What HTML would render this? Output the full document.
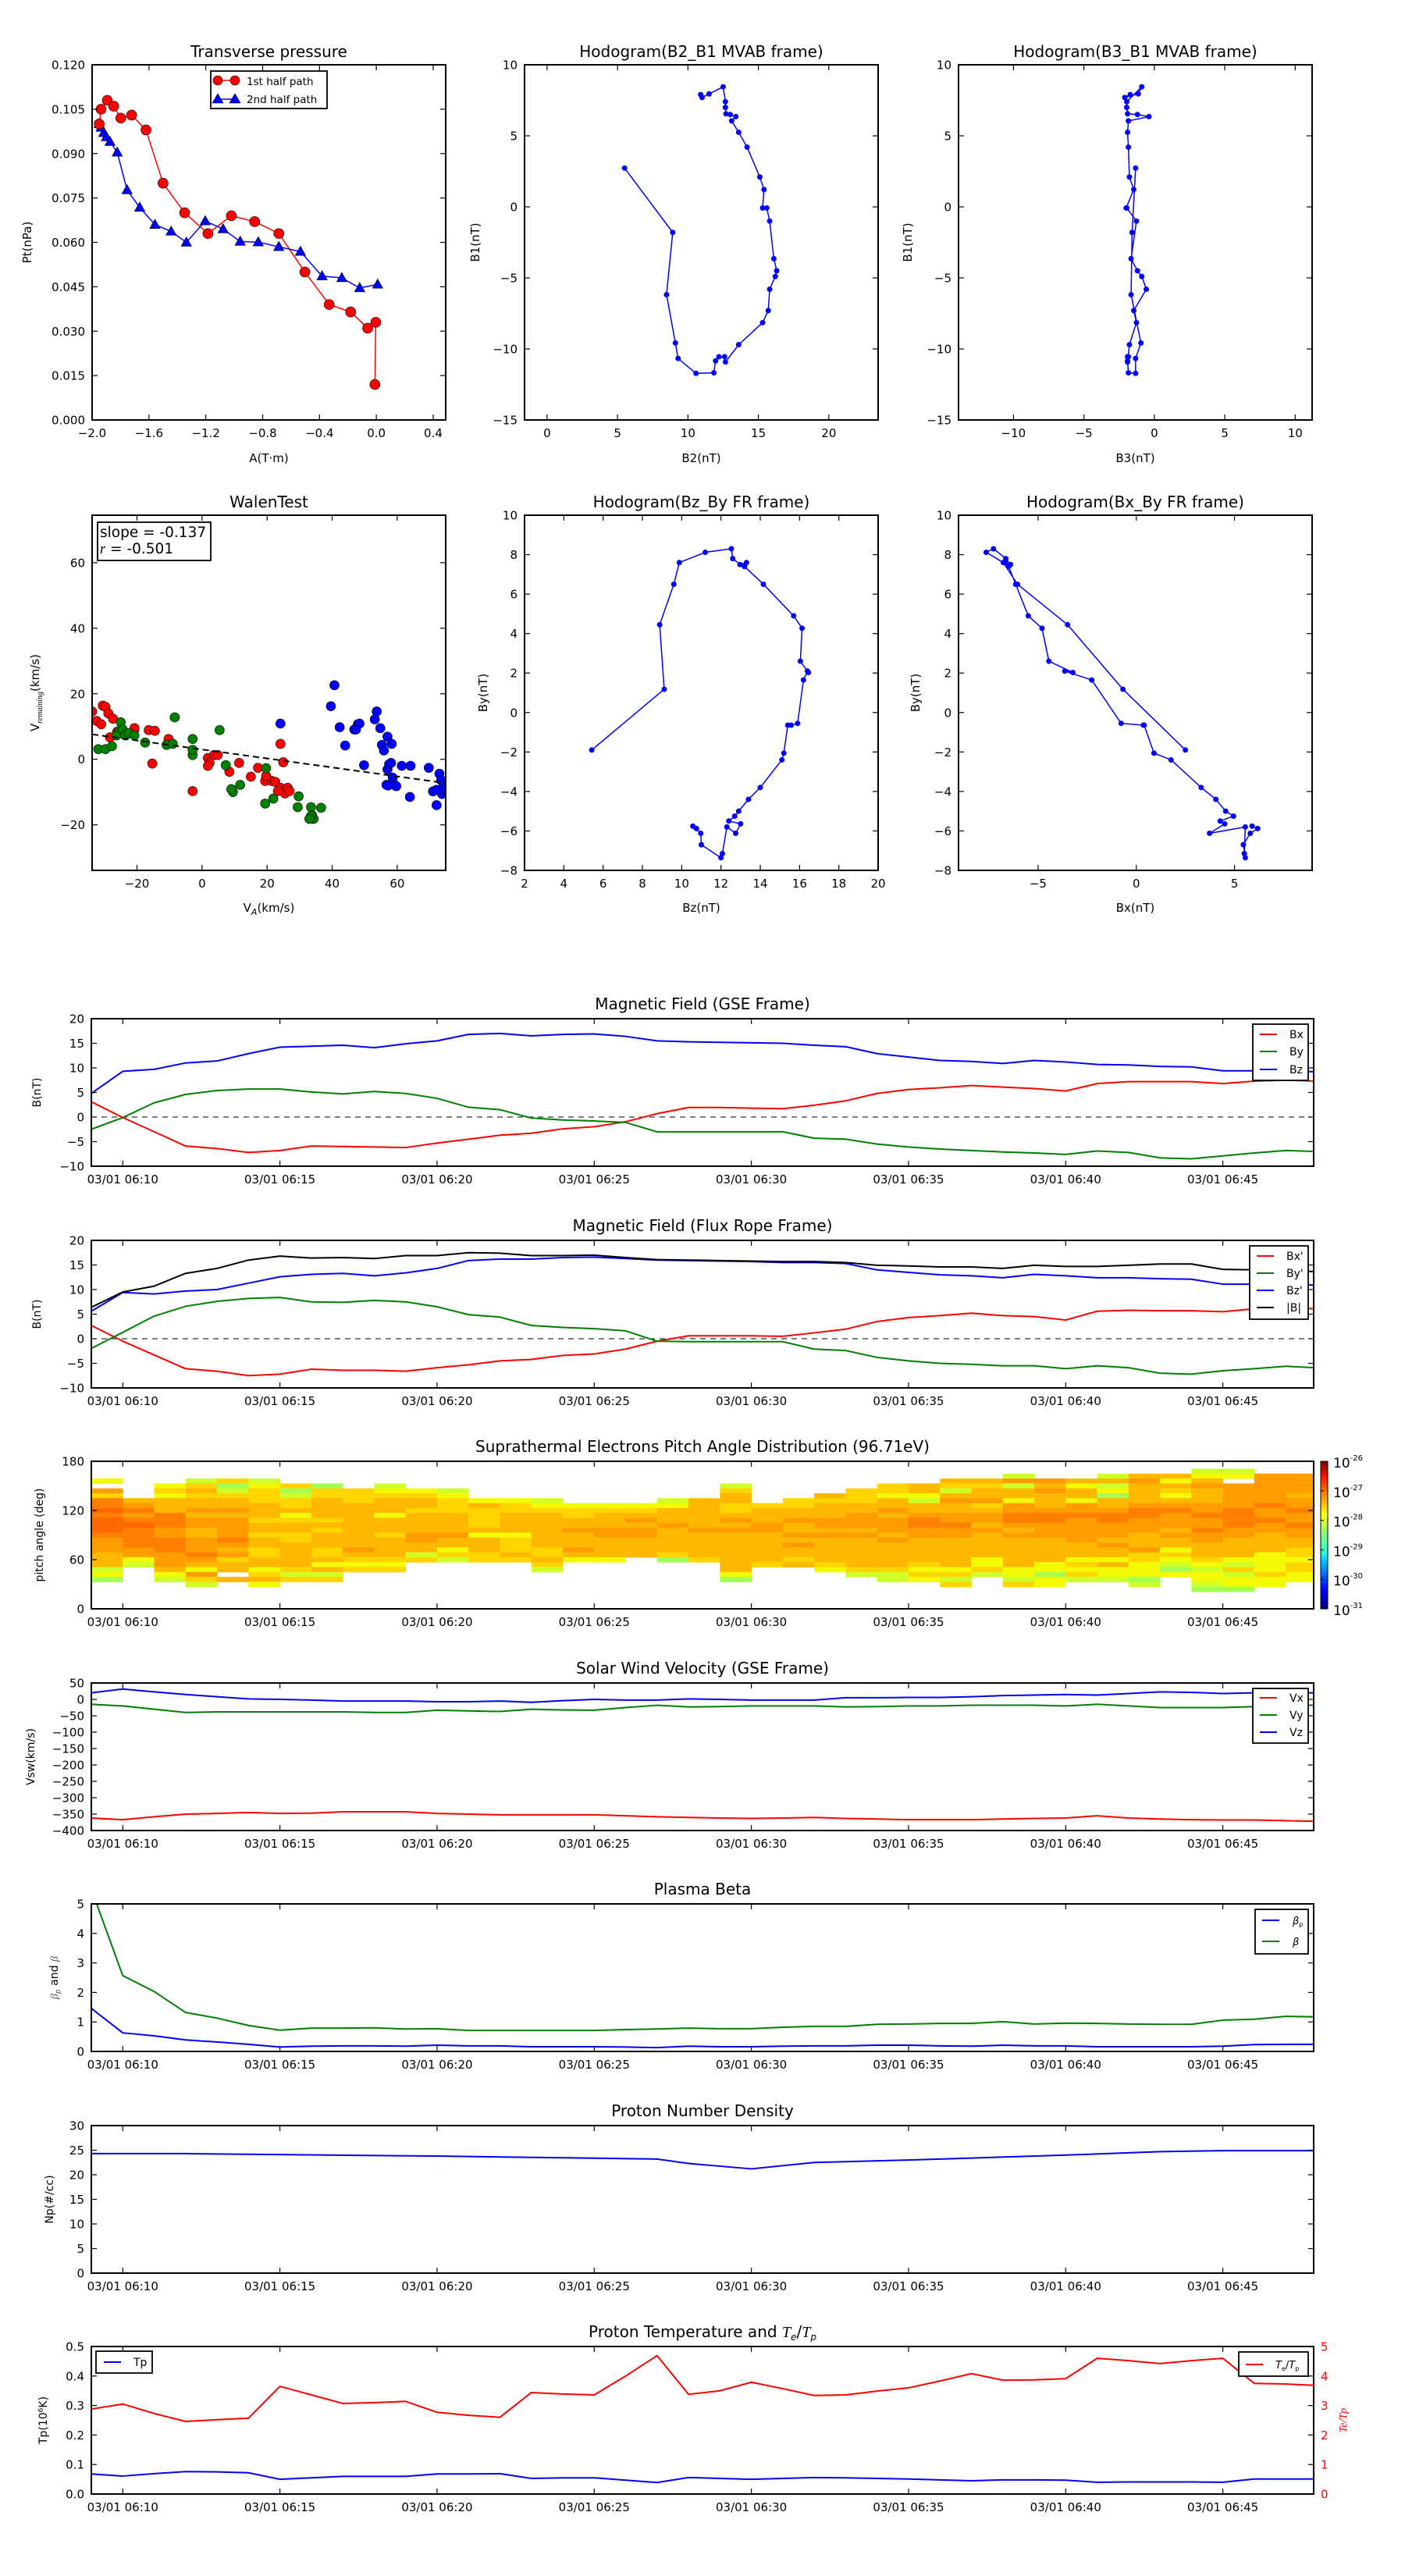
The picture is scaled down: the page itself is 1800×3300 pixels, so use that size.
<!DOCTYPE html>
<html><head><meta charset="utf-8"><title>Flux rope analysis</title>
<style>
html,body{margin:0;padding:0;background:#fff;}
svg{display:block;font-family:"DejaVu Sans","Liberation Sans",sans-serif;}
</style></head>
<body>
<svg id="fig" xmlns="http://www.w3.org/2000/svg" width="1800" height="3300" viewBox="0 0 1800 3300">
<rect x="0" y="0" width="1800" height="3300" fill="#fff"/>
<defs id="defs">
<linearGradient id="jet" x1="0" y1="1" x2="0" y2="0">
<stop offset="0" stop-color="#00007f"/><stop offset="0.11" stop-color="#0000ff"/><stop offset="0.125" stop-color="#0000ff"/>
<stop offset="0.34" stop-color="#00d5ff"/><stop offset="0.375" stop-color="#1fffe0"/><stop offset="0.5" stop-color="#80ff80"/>
<stop offset="0.64" stop-color="#ffff00"/><stop offset="0.66" stop-color="#fff000"/><stop offset="0.89" stop-color="#ff1a00"/><stop offset="1" stop-color="#800000"/>
</linearGradient>
</defs>
</svg>
<script>
// ---------------- DATA ----------------
// Transverse pressure
const tp1A = [-1.95,-1.937,-1.893,-1.848,-1.798,-1.722,-1.621,-1.501,-1.349,-1.185,-1.020,-0.856,-0.686,-0.503,-0.332,-0.181,-0.061,-0.004,-0.010];
const tp1P = [0.100,0.105,0.108,0.106,0.102,0.103,0.098,0.080,0.070,0.063,0.069,0.067,0.063,0.050,0.039,0.0365,0.031,0.033,0.012];
const tp2A = [-1.95,-1.937,-1.918,-1.899,-1.874,-1.823,-1.754,-1.665,-1.558,-1.444,-1.337,-1.204,-1.078,-0.958,-0.831,-0.686,-0.534,-0.382,-0.243,-0.117,0.009];
const tp2P = [0.100,0.0988,0.097,0.0956,0.094,0.0904,0.0777,0.0718,0.066,0.0637,0.060,0.0672,0.0645,0.0603,0.0601,0.0585,0.0569,0.0486,0.048,0.0446,0.0458];
// MVAB hodograms
const mvB2 = [5.5,8.92,8.48,9.11,9.30,10.57,11.84,11.96,12.2,12.6,12.66,13.6,15.3,15.7,15.8,16.2,16.3,16.1,15.8,15.6,15.3,15.4,15.1,14.2,13.6,13.1,13.4,13.0,12.7,12.66,12.66,12.5,11.5,11.0,10.9];
const mvB1 = [2.73,-1.8,-6.18,-9.58,-10.67,-11.72,-11.68,-10.84,-10.55,-10.55,-10.92,-9.7,-8.15,-7.3,-5.8,-4.9,-4.5,-3.65,-1.0,-0.08,-0.08,1.22,2.1,4.2,5.25,6.05,6.35,6.5,6.55,7.0,7.4,8.45,7.95,7.7,7.9];
const mvB3 = [-1.33,-1.58,-1.65,-0.95,-1.33,-1.33,-1.84,-1.9,-1.9,-1.84,-1.9,-1.77,-1.27,-1.46,-0.57,-0.89,-1.2,-1.65,-1.27,-1.96,-2.0,-1.46,-1.77,-1.84,-1.9,-1.84,-0.38,-1.2,-1.9,-1.96,-1.96,-0.89,-1.14,-2.1,-1.71];
// FR hodograms
const frBz = [5.42,9.11,8.88,9.6,9.88,11.2,12.53,12.6,12.97,13.3,13.2,14.16,15.7,16.13,16.04,16.45,16.4,16.2,15.9,15.57,15.4,15.2,15.1,14.0,13.4,12.9,12.7,12.4,13.0,12.75,12.3,12.07,12.0,11.0,10.97,10.75,10.57];
const frBy = [-1.9,1.18,4.45,6.5,7.6,8.12,8.3,7.8,7.5,7.6,7.4,6.5,4.9,4.27,2.6,2.03,2.1,1.65,-0.55,-0.64,-0.64,-2.06,-2.4,-3.8,-4.4,-5.0,-5.25,-5.5,-5.64,-6.12,-5.8,-7.15,-7.36,-6.7,-6.12,-5.88,-5.76];
const frBx = [2.5,-0.68,-3.5,-6.05,-6.77,-7.64,-7.27,-6.64,-6.4,-6.68,-6.5,-6.14,-5.5,-4.8,-4.45,-3.23,-3.64,-2.27,-0.77,0.36,0.4,0.9,1.77,3.3,4.05,4.55,4.95,4.27,4.5,3.73,5.55,5.5,5.55,5.45,5.8,6.18,5.9];
// Walen test
const walRedX = [-33.8,-32.4,-30.5,-29.7,-31.0,-28.8,-27.4,-28.3,-26.1,-20.8,-16.4,-14.5,-15.3,-10.3,-2.9,1.8,2.3,3.7,4.8,1.8,8.4,11.4,15.0,17.2,19.4,21.4,22.5,24.1,24.97,24.1,25.5,26.3,26.9,23.3,19.7,-20.8];
const walRedY = [14.6,11.7,16.4,16.0,10.7,14.0,12.4,6.7,8.4,9.1,8.9,8.7,-1.3,6.2,-9.7,0.4,-1.1,1.3,1.3,-2.0,-3.8,-1.1,-5.3,-2.6,-6.6,-6.6,-6.9,4.7,-0.9,-8.7,-10.4,-8.7,-9.7,-9.7,-5.1,9.5];
const walGreenX = [-31.9,-29.7,-27.7,-25.5,-26.3,-25.0,-24.4,-23.6,-22.5,-20.8,-17.5,-10.9,-9.0,-8.4,-2.9,-2.9,-2.9,5.4,7.3,9.5,9.0,11.7,19.7,19.4,21.9,29.7,29.4,33.5,33.8,34.3,36.6,33.5,33.0];
const walGreenY = [3.1,3.1,4.0,8.6,7.3,11.3,9.1,7.3,8.0,7.3,5.1,4.4,4.7,12.8,6.2,1.3,2.9,8.9,-1.8,-10.0,-9.1,-7.8,-2.7,-13.5,-12.0,-11.3,-14.6,-14.6,-17.1,-18.2,-14.8,-17.3,-18.2];
const walBlueX = [40.7,39.6,42.3,44.0,46.8,47.9,48.4,47.3,49.8,53.1,53.7,54.8,55.3,55.9,57.0,58.3,57.0,56.7,57.5,58.6,59.2,59.7,61.4,64.1,63.9,69.7,71.0,72.1,72.97,73.5,73.5,73.8,74.3,74.9,72.1,57.2,24.1,58.1];
const walBlueY = [22.6,16.2,9.8,4.2,9.1,10.7,10.9,9.1,-1.8,12.2,14.6,9.5,4.4,2.7,6.9,4.7,-3.1,-7.8,-1.5,-5.6,-7.8,-8.2,-2.0,-2.0,-11.5,-2.6,-9.8,-14.0,-4.4,-6.4,-9.5,-10.6,-7.7,-9.3,-9.3,-8.0,10.9,-1.1];
const walSlope = -0.137;
const walIntercept = 3.0;
// Time series (minutes after 06:10)
const tMin = [-1,0,1,2,3,4,5,6,7,8,9,10,11,12,13,14,15,16,17,18,19,20,21,22,23,24,25,26,27,28,29,30,31,32,33,34,35,36,37,38];
const gseBx = [3.1,-0.1,-3.0,-5.9,-6.4,-7.2,-6.8,-5.9,-6.0,-6.1,-6.2,-5.3,-4.5,-3.7,-3.3,-2.4,-1.96,-0.96,0.7,1.95,1.95,1.8,1.7,2.4,3.3,4.8,5.6,5.95,6.4,6.1,5.8,5.3,6.8,7.2,7.2,7.2,6.8,7.3,7.5,7.3];
const gseBy = [-2.5,-0.1,2.9,4.6,5.4,5.7,5.7,5.1,4.7,5.2,4.8,3.8,2.0,1.5,-0.2,-0.6,-0.8,-1.1,-3.0,-3.0,-3.0,-3.0,-3.0,-4.3,-4.5,-5.5,-6.1,-6.5,-6.8,-7.1,-7.3,-7.6,-6.9,-7.2,-8.3,-8.5,-7.9,-7.3,-6.8,-7.0];
const gseBz = [4.8,9.3,9.7,11.0,11.4,12.9,14.2,14.4,14.6,14.1,14.9,15.5,16.8,17.0,16.5,16.8,16.9,16.4,15.5,15.3,15.2,15.1,15.0,14.6,14.3,12.9,12.2,11.5,11.3,10.9,11.5,11.2,10.7,10.6,10.3,10.2,9.4,9.4,9.4,9.2];
const frpBx = [2.7,-0.5,-3.3,-6.1,-6.6,-7.5,-7.2,-6.2,-6.4,-6.4,-6.6,-5.9,-5.3,-4.5,-4.2,-3.4,-3.1,-2.1,-0.5,0.6,0.6,0.6,0.5,1.2,1.95,3.5,4.3,4.7,5.2,4.7,4.5,3.8,5.6,5.8,5.7,5.7,5.5,6.1,6.2,6.1];
const frpBy = [-1.96,1.3,4.6,6.6,7.6,8.2,8.4,7.5,7.4,7.8,7.5,6.5,4.9,4.4,2.7,2.3,2.05,1.6,-0.5,-0.6,-0.6,-0.6,-0.6,-2.1,-2.4,-3.8,-4.5,-5.0,-5.2,-5.5,-5.5,-6.1,-5.5,-5.9,-7.0,-7.2,-6.5,-6.1,-5.6,-5.9];
const frpBz = [5.6,9.4,9.1,9.7,10.0,11.3,12.6,13.1,13.3,12.8,13.4,14.3,15.9,16.2,16.2,16.5,16.6,16.3,16.0,15.9,15.8,15.7,15.5,15.5,15.3,14.0,13.5,13.0,12.8,12.4,13.1,12.8,12.4,12.4,12.2,12.1,11.1,11.1,11.1,10.9];
const frpBt = [6.4,9.5,10.7,13.3,14.3,16.0,16.8,16.4,16.5,16.3,16.9,16.9,17.5,17.4,16.9,16.9,17.0,16.5,16.1,16.0,15.9,15.8,15.7,15.7,15.5,14.95,14.8,14.6,14.6,14.3,14.95,14.7,14.7,14.95,15.2,15.2,14.1,14.0,14.0,13.6];
const swVx = [-362,-367,-358,-350,-348,-345,-348,-347,-343,-343,-343,-348,-350,-352,-352,-352,-352,-355,-358,-360,-362,-363,-362,-360,-363,-365,-367,-367,-367,-365,-363,-362,-355,-362,-365,-367,-368,-368,-370,-372];
const swVy = [-15,-20,-30,-40,-38,-38,-38,-38,-38,-40,-40,-33,-35,-37,-30,-32,-33,-25,-18,-23,-22,-20,-20,-20,-23,-22,-20,-20,-18,-18,-18,-20,-15,-20,-25,-25,-25,-22,-18,-18];
const swVz = [20,31.5,23,15,8,1.5,0,-2,-5,-5,-5,-7,-7,-5,-9,-4,0,-2,-2,1.5,0,-2,-2,-2,5,5,6,6,8,11.5,13,15,13,18,23,21.5,18,20,20,20];
const betaP = [1.46,0.63,0.53,0.39,0.32,0.24,0.15,0.18,0.19,0.19,0.18,0.21,0.19,0.19,0.16,0.16,0.16,0.15,0.13,0.18,0.16,0.16,0.18,0.19,0.19,0.21,0.21,0.19,0.18,0.21,0.19,0.19,0.16,0.16,0.16,0.16,0.18,0.23,0.24,0.24];
const betaAll = [5.5,2.57,2.03,1.32,1.13,0.88,0.72,0.79,0.79,0.8,0.76,0.77,0.71,0.71,0.71,0.71,0.71,0.74,0.76,0.79,0.77,0.77,0.82,0.85,0.85,0.92,0.93,0.95,0.95,1.01,0.93,0.96,0.95,0.93,0.92,0.92,1.06,1.09,1.19,1.17];
const npTime = [-1,2,5,10,17,18,20,22,25,27,30,33,35,38];
const npVal = [24.3,24.3,24.1,23.8,23.2,22.3,21.2,22.5,23.0,23.4,24.0,24.7,24.9,24.9];
const tpVal = [0.068,0.061,0.069,0.076,0.075,0.072,0.05,0.055,0.06,0.06,0.06,0.068,0.068,0.069,0.053,0.055,0.055,0.047,0.039,0.056,0.053,0.05,0.053,0.056,0.055,0.053,0.051,0.048,0.045,0.048,0.048,0.047,0.04,0.041,0.041,0.041,0.04,0.051,0.051,0.051];
const teTp = [2.88,3.05,2.73,2.46,2.52,2.57,3.65,3.36,3.07,3.1,3.14,2.77,2.67,2.6,3.44,3.39,3.36,4.0,4.69,3.38,3.5,3.79,3.57,3.34,3.36,3.49,3.6,3.83,4.08,3.86,3.87,3.91,4.6,4.52,4.42,4.52,4.6,3.75,3.73,3.68];
// Pitch angle distribution: one string per minute column, char per 6-deg bin (top bin 171-165 deg)
const padCols = [
"..Y.oyrrRrRRRroooaaalYg","......aororRrrrrooYl","...YyYaaarrroorrroooaYl","..lyayaaoaooaaoooroaYoyl","..yglyaaoaooooroaoyaa.a",
"..lYyyyaaayaayaayyaaYyaY","...yglyyaYyaayyaaaaayly","...gyyaaaayayaaayyaYaly","....yyyaaaaaaaaaoayYy","...lYyaaaYaaayaaaayYy",
"....Yyaayaaaaooaaly","....lYyyyaaaaoaaYyl","......YayyyyaYaaayy","......YyyaaaaYyyyay","......lYyaaaaaaayyayl",
".......YyyaaoaaaoaY",".......YyaaaooaaaaY",".......Yyaoaooaaaa","......lYaaaoaaaaayg","......aaaaaaoaaaaay",
"...lyaayyaoaoaaaaaaaaYg",".......yaaaooaaaaaay","......yyaaoaaoaoaaya",".....ayaaaooaoaaaaayY","....yyyaaoooaoaaaaaayl",
"...yyYaaoaoooaoaaaaayll","...aaYlaaorrooaaaaayYyY","..aylaoaaoorooaaaaaaYyly","..ayaaoyaooaoaaaaaYYyl",".lolaaYoorroaoaaaaaaYYly",
"..oaoaaaorroooaaaaaYYgYY","..aYaaYooroooooaaaYyYyl",".lalYgaaorroooaoaaYaYYl",".aoaaaaorroooaaaoyyYYYgl",".aYayYaoroooaoaaYyYlgY",
"lYaoaaaooroorooaaayYlYYlg","lY.ooooorrrrooaaaaYlylYYg",".ooooooroorooaaaaYYYYyYY",".ooooaooroorooaayyYyyYY"];
const padLevelLog = {g:-28.25,l:-28.0,Y:-27.775,y:-27.575,a:-27.425,o:-27.275,r:-27.125,R:-27.0};
const timeTicks = [0,5,10,15,20,25,30,35];
const timeTickLabels = ["03/01 06:10","03/01 06:15","03/01 06:20","03/01 06:25","03/01 06:30","03/01 06:35","03/01 06:40","03/01 06:45"];

// ---------------- HELPERS ----------------
const NS='http://www.w3.org/2000/svg';
const svg=document.getElementById('fig');
const defs=document.getElementById('defs');
let clipCount=0;
function mk(tag,attrs,parent,name){
  const el=document.createElementNS(NS,tag);
  for(const k in attrs) el.setAttribute(k,attrs[k]);
  
  
  (parent||svg).appendChild(el);
  return el;
}
function txt(x,y,s,size,anchor,parent,name,extra){
  const a={x:x,y:y,'font-size':size,'text-anchor':anchor||'middle',fill:'#000'};
  if(extra) for(const k in extra) a[k]=extra[k];
  const t=mk('text',a,parent,name);
  t.textContent=s;
  return t;
}
function rich(x,y,segs,size,anchor,parent,name,extra){
  const a={x:x,y:y,'font-size':size,'text-anchor':anchor||'middle',fill:'#000'};
  if(extra) for(const k in extra) a[k]=extra[k];
  const t=mk('text',a,parent,name);
  segs.forEach(s=>{const sp=mk('tspan',s[1]||{},t,name+'-part'); sp.textContent=s[0];});
  return t;
}
function axes(name,x,y,w,h,xl,yl){
  const g=mk('g',{},svg,name);
  const sx=v=>x+(v-xl[0])/(xl[1]-xl[0])*w;
  const sy=v=>y+h-(v-yl[0])/(yl[1]-yl[0])*h;
  const id='clip'+(++clipCount);
  const cp=mk('clipPath',{id:id},defs,name+'-clip');
  mk('rect',{x:x,y:y,width:w,height:h},cp,name+'-clip-rect');
  const pg=mk('g',{'clip-path':'url(#'+id+')'},g,name+'-plot-area');
  return {g,pg,sx,sy,x,y,w,h};
}
function fmtNum(v){return (v<0?'\u2212':'')+Math.abs(v);}
function frame(a,xt,xlabels,yt,ylabels,opt){
  opt=opt||{};
  const g=a.g, L=7;
  xt.forEach((v,i)=>{
    const X=a.sx(v);
    mk('line',{x1:X,y1:a.y+a.h,x2:X,y2:a.y+a.h-L,stroke:'#000','stroke-width':1.2},g,'x-tick');
    mk('line',{x1:X,y1:a.y,x2:X,y2:a.y+L,stroke:'#000','stroke-width':1.2},g,'x-tick-top');
    if(xlabels) txt(X,a.y+a.h+22,xlabels[i],15,'middle',g,'x-tick-label');
  });
  yt.forEach((v,i)=>{
    const Y=a.sy(v);
    mk('line',{x1:a.x,y1:Y,x2:a.x+L,y2:Y,stroke:'#000','stroke-width':1.2},g,'y-tick');
    mk('line',{x1:a.x+a.w,y1:Y,x2:a.x+a.w-L,y2:Y,stroke:'#000','stroke-width':1.2},g,'y-tick-right');
    if(ylabels) txt(a.x-9,Y+5.5,ylabels[i],15,'end',g,'y-tick-label');
  });
  mk('rect',{x:a.x,y:a.y,width:a.w,height:a.h,fill:'none',stroke:'#000','stroke-width':2},g,'axes-frame');
}
function line(a,xs,ys,color,wd,name,dash){
  const pts=xs.map((v,i)=>a.sx(v).toFixed(2)+','+a.sy(ys[i]).toFixed(2)).join(' ');
  const at={points:pts,fill:'none',stroke:color,'stroke-width':wd,'stroke-linejoin':'round'};
  if(dash) at['stroke-dasharray']=dash;
  return mk('polyline',at,a.pg,name);
}
function dots(a,xs,ys,color,r,name,parent){
  xs.forEach((v,i)=>{mk('circle',{cx:a.sx(v),cy:a.sy(ys[i]),r:r,fill:color,stroke:'#000','stroke-width':0.6},parent||a.pg,name);});
}
function tris(a,xs,ys,color,r,name,parent){
  xs.forEach((v,i)=>{const X=a.sx(v),Y=a.sy(ys[i]);
    mk('polygon',{points:`${X},${Y-r} ${X-r*0.95},${Y+r*0.7} ${X+r*0.95},${Y+r*0.7}`,fill:color,stroke:'#000','stroke-width':0.6},parent||a.pg,name);});
}
function ylab(x,y,s,size,name,extra){
  const a={transform:`rotate(-90 ${x} ${y})`};
  if(extra) for(const k in extra) a[k]=extra[k];
  return txt(x,y,s,size||15,'middle',svg,name,a);
}
function range(a,b,s){const r=[];for(let v=a;v<=b+1e-9;v+=s)r.push(Math.round(v*1000)/1000);return r;}
function legend(x,y,w,h,entries,parent,name){
  const g=mk('g',{},parent||svg,name);
  mk('rect',{x:x,y:y,width:w,height:h,fill:'#fff',stroke:'#000','stroke-width':1.8},g,'legend-box');
  return g;
}

// ---------------- TOP ROW ----------------
const C=[118,672,1228], W=453, R1=83, R2=660, H=455;
// Transverse pressure
{
const a=axes('transverse-pressure-chart',C[0],R1,W,H,[-2.0,0.488],[0,0.12]);
line(a,tp1A,tp1P,'#ff0000',1.5,'first-half-line');
line(a,tp2A,tp2P,'#0000ff',1.5,'second-half-line');
tris(a,tp2A,tp2P,'#0000ff',7,'second-half-marker');
dots(a,tp1A,tp1P,'#ff0000',6.5,'first-half-marker');
const xt=[-2.0,-1.6,-1.2,-0.8,-0.4,0.0,0.4];
frame(a,xt,xt.map(v=>fmtNum(v.toFixed(1)*1===0?0:v).replace(/^(−?\d)$/,'$1.0').replace(/^(−?\d\.\d)$/,'$1')),range(0,0.12,0.015),range(0,0.12,0.015).map(v=>v.toFixed(3)));
txt(a.x+a.w/2,R1-10,'Transverse pressure',20,'middle',svg,'chart-title');
txt(a.x+a.w/2,592,'A(T·m)',15,'middle',svg,'x-axis-title');
ylab(40,R1+H/2,'Pt(nPa)',15,'y-axis-title');
const lg=legend(270,91,149,48,null,svg,'legend');
const ln=mk('line',{x1:279,y1:103,x2:301,y2:103,stroke:'#ff0000','stroke-width':1.5},lg,'legend-line-1st');
mk('circle',{cx:279,cy:103,r:6,fill:'#ff0000',stroke:'#000','stroke-width':0.6},lg,'legend-marker-1st');
mk('circle',{cx:301,cy:103,r:6,fill:'#ff0000',stroke:'#000','stroke-width':0.6},lg,'legend-marker-1st');
txt(316,109,'1st half path',13.5,'start',lg,'legend-label-1st');
mk('line',{x1:279,y1:127,x2:301,y2:127,stroke:'#0000ff','stroke-width':1.5},lg,'legend-line-2nd');
mk('polygon',{points:'279,120 272,132 286,132',fill:'#0000ff',stroke:'#000','stroke-width':0.6},lg,'legend-marker-2nd');
mk('polygon',{points:'301,120 294,132 308,132',fill:'#0000ff',stroke:'#000','stroke-width':0.6},lg,'legend-marker-2nd');
txt(316,132,'2nd half path',13.5,'start',lg,'legend-label-2nd');
}
// Hodogram B2_B1
{
const a=axes('hodogram-b2-b1-chart',C[1],R1,W,H,[-1.6,23.5],[-15,10]);
line(a,mvB2,mvB1,'#0000ff',1.5,'hodogram-path');
mvB2.forEach((v,i)=>mk('circle',{cx:a.sx(v),cy:a.sy(mvB1[i]),r:3.5,fill:'#0000ff'},a.pg,'hodogram-point'));
const xt=[0,5,10,15,20], yt=range(-15,10,5);
frame(a,xt,xt.map(fmtNum),yt,yt.map(fmtNum));
txt(a.x+a.w/2,R1-10,'Hodogram(B2_B1 MVAB frame)',20,'middle',svg,'chart-title');
txt(a.x+a.w/2,592,'B2(nT)',15,'middle',svg,'x-axis-title');
ylab(614,R1+H/2,'B1(nT)',15,'y-axis-title');
}
// Hodogram B3_B1
{
const a=axes('hodogram-b3-b1-chart',C[2],R1,W,H,[-13.9,11.2],[-15,10]);
line(a,mvB3,mvB1,'#0000ff',1.5,'hodogram-path');
mvB3.forEach((v,i)=>mk('circle',{cx:a.sx(v),cy:a.sy(mvB1[i]),r:3.5,fill:'#0000ff'},a.pg,'hodogram-point'));
const xt=[-10,-5,0,5,10], yt=range(-15,10,5);
frame(a,xt,xt.map(fmtNum),yt,yt.map(fmtNum));
txt(a.x+a.w/2,R1-10,'Hodogram(B3_B1 MVAB frame)',20,'middle',svg,'chart-title');
txt(a.x+a.w/2,592,'B3(nT)',15,'middle',svg,'x-axis-title');
ylab(1168,R1+H/2,'B1(nT)',15,'y-axis-title');
}
// Walen test
{
const xl=[-33.8,74.9];
const a=axes('walen-test-chart',C[0],R2,W,H,xl,[-33.9,74.5]);
dots(a,walRedX,walRedY,'#ff0000',6,'walen-point-red');
dots(a,walGreenX,walGreenY,'#008000',6,'walen-point-green');
dots(a,walBlueX,walBlueY,'#0000ff',6,'walen-point-blue');
line(a,xl,xl.map(v=>walSlope*v+walIntercept),'#000',2,'walen-fit-line','8,5');
const t=range(-20,60,20);
frame(a,t,t.map(fmtNum),t,t.map(fmtNum));
txt(a.x+a.w/2,R2-10,'WalenTest',20,'middle',svg,'chart-title');
rich(a.x+a.w/2,1168,[['V'],['A',{'font-size':11,'font-style':'italic',dy:4}],['(km/s)',{dy:-4}]],15,'middle',svg,'x-axis-title');
const yl=mk('text',{x:50,y:R2+H/2,'font-size':15,'text-anchor':'middle',transform:`rotate(-90 50 ${R2+H/2})`},svg,'y-axis-title');
const s1=mk('tspan',{},yl,'y-axis-title-part');s1.textContent='V';
const s2=mk('tspan',{'font-size':10,'font-style':'italic','font-family':'Liberation Serif, serif',dy:4},yl,'y-axis-title-part');s2.textContent='remaining';
const s3=mk('tspan',{dy:-4},yl,'y-axis-title-part');s3.textContent='(km/s)';
mk('rect',{x:125,y:669,width:145,height:49,fill:'#fff',stroke:'#000','stroke-width':1.8},svg,'fit-stats-box');
txt(128,688,'slope = -0.137',18.5,'start',svg,'slope-label');
rich(128,709,[['r',{'font-style':'italic','font-family':'Liberation Serif, serif'}],[' = -0.501']],18.5,'start',svg,'r-label');
}
// Hodogram Bz_By FR
{
const a=axes('hodogram-bz-by-chart',C[1],R2,W,H,[2,20],[-8,10]);
line(a,frBz,frBy,'#0000ff',1.5,'hodogram-path');
frBz.forEach((v,i)=>mk('circle',{cx:a.sx(v),cy:a.sy(frBy[i]),r:3.5,fill:'#0000ff'},a.pg,'hodogram-point'));
const xt=range(2,20,2), yt=range(-8,10,2);
frame(a,xt,xt.map(fmtNum),yt,yt.map(fmtNum));
txt(a.x+a.w/2,R2-10,'Hodogram(Bz_By FR frame)',20,'middle',svg,'chart-title');
txt(a.x+a.w/2,1168,'Bz(nT)',15,'middle',svg,'x-axis-title');
ylab(624,R2+H/2,'By(nT)',15,'y-axis-title');
}
// Hodogram Bx_By FR
{
const a=axes('hodogram-bx-by-chart',C[2],R2,W,H,[-9.05,8.95],[-8,10]);
line(a,frBx,frBy,'#0000ff',1.5,'hodogram-path');
frBx.forEach((v,i)=>mk('circle',{cx:a.sx(v),cy:a.sy(frBy[i]),r:3.5,fill:'#0000ff'},a.pg,'hodogram-point'));
const xt=[-5,0,5], yt=range(-8,10,2);
frame(a,xt,xt.map(fmtNum),yt,yt.map(fmtNum));
txt(a.x+a.w/2,R2-10,'Hodogram(Bx_By FR frame)',20,'middle',svg,'chart-title');
txt(a.x+a.w/2,1168,'Bx(nT)',15,'middle',svg,'x-axis-title');
ylab(1178,R2+H/2,'By(nT)',15,'y-axis-title');
}

// ---------------- TIME SERIES ----------------
const TX=117, TW=1566, TH=189, TXL=[-1,37.89];
const PT=[1305,1589,1872,2156,2439,2723,3006];
function tsAxes(name,i,yl){return axes(name,TX,PT[i],TW,TH,TXL,yl);}
function tsTitle(i,s,name){return txt(TX+TW/2,PT[i]-12,s,20,'middle',svg,name||'chart-title');}
function simpleLegend(x,y,w,h,labels,colors,rowY,name){
  const g=legend(x,y,w,h,null,svg,name);
  labels.forEach((l,k)=>{
    mk('line',{x1:x+9,y1:rowY[k],x2:x+31,y2:rowY[k],stroke:colors[k],'stroke-width':2},g,'legend-line');
    txt(x+47,rowY[k]+5,l,14,'start',g,'legend-label');
  });
  return g;
}
// GSE
{
const a=tsAxes('magnetic-field-gse-chart',0,[-10,20]);
line(a,TXL,[0,0],'#000',1,'zero-line','7,6');
line(a,tMin,gseBx,'#ff0000',2,'bx-line');
line(a,tMin,gseBy,'#008000',2,'by-line');
line(a,tMin,gseBz,'#0000ff',2,'bz-line');
const yt=range(-10,20,5);
frame(a,timeTicks,timeTickLabels,yt,yt.map(fmtNum));
tsTitle(0,'Magnetic Field (GSE Frame)');
ylab(52,PT[0]+TH/2,'B(nT)',14,'y-axis-title');
simpleLegend(1605,1312,71,72,['Bx','By','Bz'],['#ff0000','#008000','#0000ff'],[1325,1347,1370],'legend');
}
// Flux rope frame
{
const a=tsAxes('magnetic-field-flux-rope-chart',1,[-10,20]);
line(a,TXL,[0,0],'#000',1,'zero-line','7,6');
line(a,tMin,frpBx,'#ff0000',2,'bx-prime-line');
line(a,tMin,frpBy,'#008000',2,'by-prime-line');
line(a,tMin,frpBz,'#0000ff',2,'bz-prime-line');
line(a,tMin,frpBt,'#000000',2,'b-total-line');
const yt=range(-10,20,5);
frame(a,timeTicks,timeTickLabels,yt,yt.map(fmtNum));
tsTitle(1,'Magnetic Field (Flux Rope Frame)');
ylab(52,PT[1]+TH/2,'B(nT)',14,'y-axis-title');
simpleLegend(1601,1596,75,94,["Bx'","By'","Bz'","|B|"],['#ff0000','#008000','#0000ff','#000'],[1609,1631,1653,1675],'legend');
}
// PAD
function jet(f){
  const cl=v=>Math.max(0,Math.min(1,v));
  const r=f<0.35?0:f<0.66?(f-0.35)/0.31:f<0.89?1:1-(f-0.89)/0.11*0.5;
  const g=f<0.125?0:f<0.375?(f-0.125)/0.25:f<0.64?1:f<0.91?1-(f-0.64)/0.27:0;
  const b=f<0.11?0.5+f/0.11*0.5:f<0.34?1:f<0.65?1-(f-0.34)/0.31:0;
  return `rgb(${Math.round(cl(r)*255)},${Math.round(cl(g)*255)},${Math.round(cl(b)*255)})`;
}
{
const a=tsAxes('pitch-angle-distribution-chart',2,[0,180]);
padCols.forEach((col,c)=>{
  for(let i=0;i<col.length;i++){
    const ch=col[i]; if(ch==='.') continue;
    const v=padLevelLog[ch];
    const top=171-6*i;
    const x0=a.sx(c-1), x1=a.sx(c), y0=a.sy(top), y1=a.sy(top-6);
    mk('rect',{x:x0,y:y0,width:x1-x0+0.5,height:y1-y0+0.5,fill:jet((v+31)/5)},a.pg,'pad-cell');
  }
});
const yt=[0,60,120,180];
frame(a,timeTicks,timeTickLabels,yt,yt.map(String));
tsTitle(2,'Suprathermal Electrons Pitch Angle Distribution (96.71eV)');
ylab(55,PT[2]+TH/2,'pitch angle (deg)',14,'y-axis-title');
const cb=mk('g',{},svg,'colorbar');
mk('rect',{x:1692,y:PT[2],width:9,height:TH,fill:'url(#jet)',stroke:'#000','stroke-width':1},cb,'colorbar-gradient');
[-26,-27,-28,-29,-30,-31].forEach(e=>{
  const Y=PT[2]+TH*(-26-e)/5;
  mk('line',{x1:1692,y1:Y,x2:1696,y2:Y,stroke:'#000','stroke-width':1},cb,'colorbar-tick');
  rich(1708,Y+8,[['10'],[String(e),{'font-size':10,dy:-9}]],17,'start',cb,'colorbar-label');
});
}
// Solar wind
{
const a=tsAxes('solar-wind-velocity-chart',3,[-400,50]);
line(a,tMin,swVx,'#ff0000',2,'vx-line');
line(a,tMin,swVy,'#008000',2,'vy-line');
line(a,tMin,swVz,'#0000ff',2,'vz-line');
const yt=range(-400,50,50);
frame(a,timeTicks,timeTickLabels,yt,yt.map(fmtNum));
tsTitle(3,'Solar Wind Velocity (GSE Frame)');
ylab(44,PT[3]+TH/2,'Vsw(km/s)',14,'y-axis-title');
simpleLegend(1605,2163,71,70,['Vx','Vy','Vz'],['#ff0000','#008000','#0000ff'],[2175,2197,2219],'legend');
}
// Beta
{
const a=tsAxes('plasma-beta-chart',4,[0,5]);
line(a,tMin,betaP,'#0000ff',2,'beta-p-line');
line(a,tMin,betaAll,'#008000',2,'beta-line');
const yt=range(0,5,1);
frame(a,timeTicks,timeTickLabels,yt,yt.map(String));
tsTitle(4,'Plasma Beta');
const yl=mk('text',{x:74,y:PT[4]+TH/2,'font-size':14,'text-anchor':'middle',transform:`rotate(-90 74 ${PT[4]+TH/2})`},svg,'y-axis-title');
const p1=mk('tspan',{'font-style':'italic','font-family':'Liberation Serif, serif',fill:'#555'},yl,'y-axis-title-part');p1.textContent='β';
const p2=mk('tspan',{'font-size':9,'font-style':'italic',dy:3,fill:'#555'},yl,'y-axis-title-part');p2.textContent='p';
const p3=mk('tspan',{dy:-3},yl,'y-axis-title-part');p3.textContent=' and ';
const p4=mk('tspan',{'font-style':'italic','font-family':'Liberation Serif, serif',fill:'#555'},yl,'y-axis-title-part');p4.textContent='β';
const g=legend(1608,2446,68,57,null,svg,'legend');
mk('line',{x1:1617,y1:2460,x2:1639,y2:2460,stroke:'#0000ff','stroke-width':2},g,'legend-line');
rich(1656,2465,[['β',{'font-style':'italic'}],['p',{'font-size':8,dy:3}]],13,'start',g,'legend-label');
mk('line',{x1:1617,y1:2487,x2:1639,y2:2487,stroke:'#008000','stroke-width':2},g,'legend-line');
rich(1656,2492,[['β',{'font-style':'italic'}]],13,'start',g,'legend-label');
}
// Np
{
const a=tsAxes('proton-density-chart',5,[0,30]);
line(a,npTime,npVal,'#0000ff',2,'np-line');
const yt=range(0,30,5);
frame(a,timeTicks,timeTickLabels,yt,yt.map(String));
tsTitle(5,'Proton Number Density');
ylab(68,PT[5]+TH/2,'Np(#/cc)',14,'y-axis-title');
}
// Temperature
{
const a=tsAxes('proton-temperature-chart',6,[0,0.5]);
const b=axes('te-tp-axis',TX,PT[6],TW,TH,TXL,[0,5]);
line(b,tMin,teTp,'#ff0000',2,'te-tp-line');
line(a,tMin,tpVal,'#0000ff',2,'tp-line');
const yt=range(0,0.5,0.1);
frame(a,timeTicks,timeTickLabels,yt,yt.map(v=>v.toFixed(1)));
range(0,5,1).forEach(v=>txt(TX+TW+9,b.sy(v)+5.5,String(v),15,'start',svg,'right-y-tick-label',{fill:'#ff0000'}));
rich(TX+TW/2,PT[6]-12,[['Proton Temperature and '],['T',{'font-style':'italic','font-family':'Liberation Serif, serif'}],['e',{'font-size':12,dy:4,'font-style':'italic'}],['/',{dy:-4}],['T',{'font-style':'italic','font-family':'Liberation Serif, serif'}],['p',{'font-size':12,dy:4,'font-style':'italic'}]],20,'middle',svg,'chart-title');
const yl=mk('text',{x:60,y:PT[6]+TH/2,'font-size':14,'text-anchor':'middle',transform:`rotate(-90 60 ${PT[6]+TH/2})`},svg,'y-axis-title');
const q1=mk('tspan',{},yl,'y-axis-title-part');q1.textContent='Tp(10';
const q2=mk('tspan',{'font-size':9,dy:-5},yl,'y-axis-title-part');q2.textContent='6';
const q3=mk('tspan',{dy:5},yl,'y-axis-title-part');q3.textContent='K)';
const yr=mk('text',{x:1725,y:PT[6]+TH/2,'font-size':14,'text-anchor':'middle',fill:'#ff0000','font-style':'italic','font-family':'Liberation Serif, serif',transform:`rotate(-90 1725 ${PT[6]+TH/2})`},svg,'right-y-axis-title');
yr.textContent='Te/Tp';
const g1=legend(123,3012,72,28,null,svg,'legend-tp');
mk('line',{x1:133,y1:3026,x2:155,y2:3026,stroke:'#0000ff','stroke-width':2},g1,'legend-line');
txt(171,3031,'Tp',14,'start',g1,'legend-label');
const g2=legend(1587,3013,89,31,null,svg,'legend-te-tp');
mk('line',{x1:1596,y1:3029,x2:1618,y2:3029,stroke:'#ff0000','stroke-width':2},g2,'legend-line');
rich(1634,3034,[['T',{'font-style':'italic'}],['e',{'font-size':8,dy:3}],['/',{dy:-3}],['T',{'font-style':'italic'}],['p',{'font-size':8,dy:3}]],13,'start',g2,'legend-label');
}
</script>
</body></html>
